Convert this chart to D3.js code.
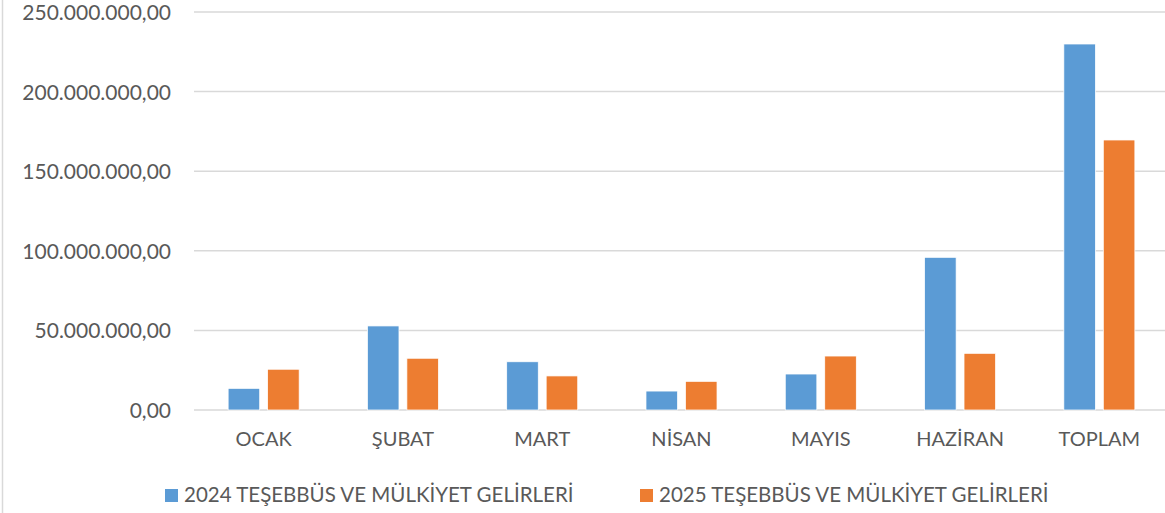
<!DOCTYPE html>
<html>
<head>
<meta charset="utf-8">
<script src="https://cdn.jsdelivr.net/npm/d3@7"></script>
<style>
  html, body { margin: 0; padding: 0; background: #fff; }
  svg { display: block; font-family: Lato, "Open Sans", sans-serif; }
</style>
</head>
<body>
<svg id="chart" width="1165" height="513"></svg>
<script>
const categories = ["OCAK", "ŞUBAT", "MART", "NİSAN", "MAYIS", "HAZİRAN", "TOPLAM"];
const seriesNames = ["2024 TEŞEBBÜS VE MÜLKİYET GELİRLERİ", "2025 TEŞEBBÜS VE MÜLKİYET GELİRLERİ"];
const values2024 = [13600000, 52800000, 30300000, 11900000, 22600000, 95900000, 229900000];
const values2025 = [25600000, 32500000, 21400000, 18000000, 33900000, 35600000, 169600000];
const yTicks = [0, 50000000, 100000000, 150000000, 200000000, 250000000];
const colors = ["#5B9BD5", "#ED7D31"];

const svg = d3.select("#chart");
const W = 1165, H = 513;
const plot = { left: 194, right: 1169, top: 12, bottom: 410 };
const FONT = "Lato, 'Open Sans', sans-serif";

// left frame border
svg.append("line")
  .attr("x1", 2.5).attr("x2", 2.5).attr("y1", 0).attr("y2", H)
  .attr("stroke", "#d9d9d9").attr("stroke-width", 1.5);

const y = d3.scaleLinear().domain([0, 250000000]).range([plot.bottom, plot.top]);
const x0 = d3.scaleBand().domain(categories).range([plot.left, plot.right])
  .paddingInner(0.49).paddingOuter(0.245);
const x1 = d3.scaleBand().domain([0, 1]).range([0, x0.bandwidth()]).paddingInner(0.2);

const fmt = v => {
  const s = d3.format(",.2f")(v);
  return s.replace(/,/g, "#").replace(/\./g, ",").replace(/#/g, ".");
};

// y axis labels
const yAxis = d3.axisLeft(y).tickValues(yTicks).tickFormat(fmt).tickSize(0).tickPadding(23);
const gAxis = svg.append("g").attr("transform", `translate(${plot.left},0)`).call(yAxis)
  .attr("font-family", FONT);
gAxis.select(".domain").remove();
gAxis.selectAll("text").attr("fill", "#595959").attr("font-size", 21).attr("dy", "0.36em");

// gridlines
svg.append("g").selectAll("line").data(yTicks).join("line")
  .attr("x1", plot.left).attr("x2", W)
  .attr("y1", d => y(d)).attr("y2", d => y(d))
  .attr("stroke", "#d9d9d9").attr("stroke-width", 1.5);

// bars
const data = categories.map((c, i) => ({ c, v: [values2024[i], values2025[i]] }));
const groups = svg.append("g").selectAll("g").data(data).join("g")
  .attr("transform", d => `translate(${x0(d.c)},0)`);
groups.selectAll("rect").data(d => d.v.map((v, k) => ({ v, k }))).join("rect")
  .attr("x", d => x1(d.k))
  .attr("width", x1.bandwidth())
  .attr("y", d => y(d.v))
  .attr("height", d => y(0) - y(d.v))
  .attr("fill", d => colors[d.k])
  .attr("stroke", "#fff").attr("stroke-width", 0.75);

// x axis labels
const xAxis = d3.axisBottom(x0).tickSize(0).tickPadding(22);
const gx = svg.append("g").attr("transform", `translate(0,${plot.bottom})`).call(xAxis)
  .attr("font-family", FONT);
gx.select(".domain").remove();
gx.selectAll("text").attr("fill", "#595959").attr("font-size", 20);

// legend
const legendX = [165, 640];
const leg = svg.append("g").selectAll("g").data(seriesNames).join("g")
  .attr("transform", (d, i) => `translate(${legendX[i]},489)`);
leg.append("rect").attr("width", 13).attr("height", 13).attr("fill", (d, i) => colors[i]);
leg.append("text").attr("x", 19).attr("y", 13)
  .attr("fill", "#595959").attr("font-size", 20.5)
  .text(d => d);
</script>
</body>
</html>
